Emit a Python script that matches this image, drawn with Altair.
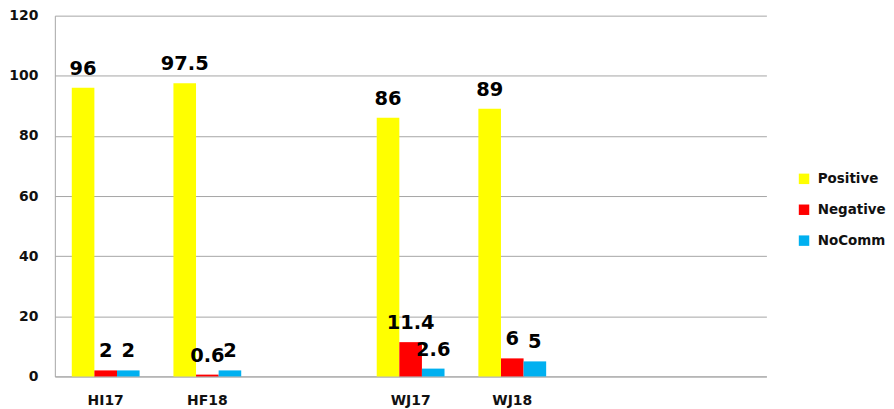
import altair as alt
import pandas as pd

categories = ["HI17", "HF18", "WJ17", "WJ18"]
slots = ["HI17", "HF18", "gap1", "WJ17", "WJ18", "gap2", "gap3"]
series = ["Positive", "Negative", "NoComm"]
positive = [96, 97.5, 86, 89]
negative = [2, 0.6, 11.4, 6]
nocomm = [2, 2, 2.6, 5]
labels = [["96", "97.5", "86", "89"], ["2", "0.6", "11.4", "6"], ["2", "2", "2.6", "5"]]
colors = ["#FFFF00", "#FF0000", "#00B0F0"]

rows = []
for s, vals, labs in zip(series, [positive, negative, nocomm], labels):
    for c, v, l in zip(categories, vals, labs):
        rows.append({"cat": c, "series": s, "value": v, "label": l})
df = pd.DataFrame(rows)

FONT = "DejaVu Sans"

x = alt.X("cat:N", scale=alt.Scale(domain=slots, paddingInner=0.333, paddingOuter=0.1667),
          axis=alt.Axis(title=None, labelAngle=0, labelFont=FONT, labelFontWeight="bold",
                        labelFontSize=14, labelColor="#111", labelPadding=17, ticks=False,
                        domainColor="#A6A6A6", grid=False,
                        labelExpr="indexof(datum.value, 'gap') == 0 ? '' : datum.value"))
xo = alt.XOffset("series:N", scale=alt.Scale(domain=series, paddingInner=0, paddingOuter=0))
y = alt.Y("value:Q", scale=alt.Scale(domain=[0, 120], nice=False),
          axis=alt.Axis(title=None, values=[0, 20, 40, 60, 80, 100, 120], labelFont=FONT,
                        labelFontWeight="bold", labelFontSize=14, labelColor="#111",
                        labelPadding=17, ticks=False, domainColor="#A6A6A6",
                        gridColor="#A6A6A6", gridWidth=1))

bars = alt.Chart(df).mark_bar().encode(
    x=x, xOffset=xo, y=y,
    color=alt.Color("series:N", scale=alt.Scale(domain=series, range=colors),
                    legend=alt.Legend(title=None, orient="none", legendX=745, legendY=157,
                                      symbolType="square", symbolSize=110, symbolStrokeWidth=0,
                                      labelFont=FONT, labelFontWeight="bold", labelFontSize=13.5,
                                      labelColor="#111", rowPadding=16, labelOffset=7)),
)

text = alt.Chart(df).mark_text(font=FONT, fontWeight="bold", fontSize=19.5, color="#000",
                               baseline="alphabetic", dy=-13).encode(
    x=x, xOffset=xo, y=y, text="label:N")

chart = (bars + text).properties(
    width=714, height=362, padding={"left": 0, "top": 0, "right": 0, "bottom": 0}
).configure_view(stroke=None)

chart.save("out.html", embed_options={"renderer": "svg", "actions": False})
